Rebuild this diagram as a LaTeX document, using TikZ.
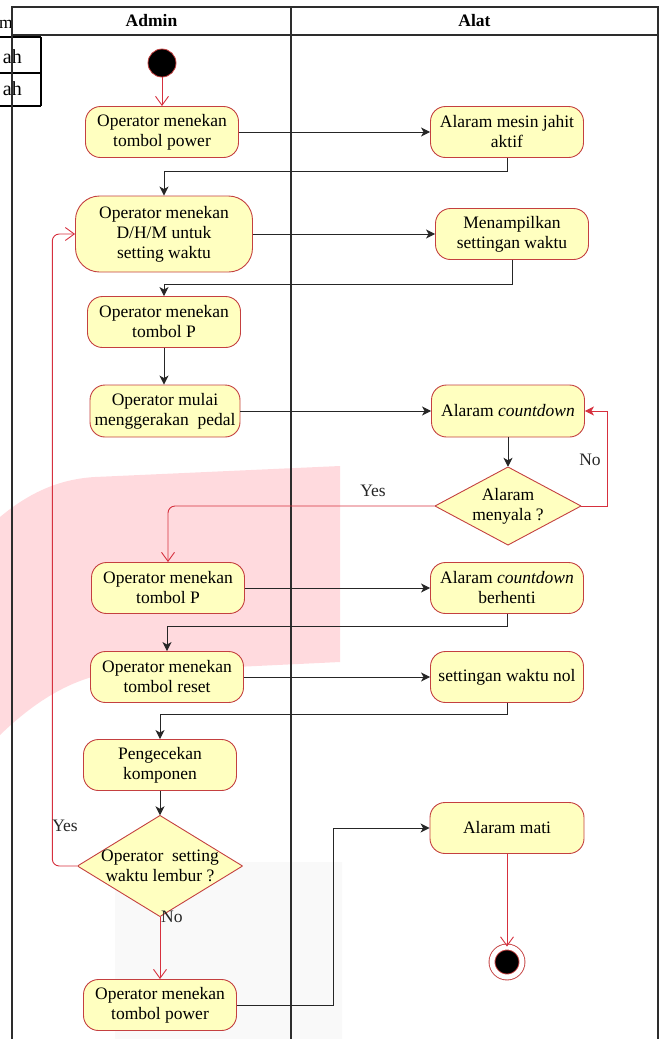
\documentclass[tikz,border=0pt]{standalone}
\usepackage{fontspec}
\setmainfont{Liberation Serif}
\usetikzlibrary{arrows.meta,positioning,calc}

\definecolor{actfill}{RGB}{255,255,192}
\definecolor{actline}{RGB}{196,64,64}
\definecolor{flowred}{RGB}{214,48,62}
\definecolor{wmpink}{RGB}{255,218,222}
\definecolor{wmgray}{RGB}{249,249,249}
\definecolor{lanegray}{RGB}{45,45,45}

\begin{document}
\begin{tikzpicture}[x=1pt,y=-1pt,font=\fontsize{17.5}{20}\selectfont,
	act/.style={draw=actline,fill=actfill,line width=0.9pt,rounded corners=15pt,align=center,inner sep=2pt,minimum width=153pt,minimum height=51pt},
	decision/.style={align=center,inner sep=0pt,path picture={\filldraw[draw=actline,fill=actfill,line width=0.9pt] (path picture bounding box.north) -- (path picture bounding box.east) -- (path picture bounding box.south) -- (path picture bounding box.west) -- cycle;}},
	flow/.style={draw=black!85,line width=1pt,-{Stealth[length=9pt,width=9pt,inset=2.5pt]}},
	redflow/.style={draw=flowred,line width=0.9pt,-{Straight Barb[length=9pt,width=13pt]}},
	lane/.style={draw=lanegray,line width=1.2pt},
	guard/.style={inner sep=1pt,text=black!85}]
	\clip (0,0) rectangle (661,1039);
	% watermark
	\fill[wmpink] (0,517) .. controls (30,492) and (60,479) .. (95,477) -- (340,466) -- (340,662) -- (110,673) .. controls (65,680) and (28,708) .. (0,735) -- cycle;
	\fill[wmgray] (115,1045) -- (115,888) .. controls (115,872) and (124,862) .. (140,862) -- (342,862) -- (342,1045) -- cycle;
	% bits of the table left of the frame
	\node[anchor=base east,inner sep=0pt] (tblm) at (13,28) {m};
	\foreach \yb/\nm in {63/tbla,95/tblb}
	\node[anchor=base east,inner sep=0pt,font=\fontsize{20}{22}\selectfont] (\nm) at (22,\yb) {ah};
	\foreach \yl in {37,73,106}
	\draw[line width=1.4pt] (0,\yl) -- (41,\yl);
	\draw[line width=1.4pt] (41,37) -- (41,106);
	% swimlanes
	\draw[lane] (12,1045) -- (12,7) -- (658,7) -- (658,1045);
	\draw[lane] (12,35) -- (658,35);
	\draw[lane] (291,7) -- (291,1045);
	\node[font=\fontsize{17.5}{20}\selectfont\bfseries] (hadmin) at (151.5,21) {Admin};
	\node[font=\fontsize{17.5}{20}\selectfont\bfseries] (halat) at (474.5,21) {Alat};
	% nodes
	\node[circle,fill=black,draw=actline,line width=0.8pt,minimum size=28pt,inner sep=0pt] (start) at (162,63) {};
	\node[act] (n1) at (162,132) {Operator menekan\\tombol power};
	\node[act] (a1) at (507,132) {Alaram mesin jahit\\aktif};
	\node[act,minimum width=177pt,minimum height=76pt,rounded corners=24pt] (n2) at (164,234) {Operator menekan\\D/H/M untuk\\setting waktu};
	\node[act] (a2) at (512,234) {Menampilkan\\settingan waktu};
	\node[act] (n3) at (164,322) {Operator menekan\\tombol P};
	\node[act,minimum width=150pt,minimum height=52pt] (n4) at (165,411) {Operator mulai\\menggerakan\ \ pedal};
	\node[act,minimum height=52pt] (a3) at (508,411) {Alaram \textit{countdown}};
	\node[decision,minimum width=146pt,minimum height=78pt] (d1) at (508,506) {Alaram\\menyala ?};
	\node[act] (n5) at (168,588) {Operator menekan\\tombol P};
	\node[act] (a4) at (507,588) {Alaram \textit{countdown}\\berhenti};
	\node[act] (n6) at (167,677) {Operator menekan\\tombol reset};
	\node[act] (a5) at (507,677) {settingan waktu nol};
	\node[act] (n7) at (160,765) {Pengecekan\\komponen};
	\node[decision,minimum width=165pt,minimum height=101pt] (d2) at (160,866) {Operator\ \ setting\\waktu lembur ?};
	\node[act] (n8) at (160,1005) {Operator menekan\\tombol power};
	\node[act,minimum width=154pt] (a6) at (507,828) {Alaram mati};
	\node[circle,fill=black,draw=actline,line width=0.9pt,double=white,double distance=5pt,minimum size=30pt,inner sep=0pt] (end) at (507,962) {};
	% connectors
	\draw[redflow] (start) -- (n1);
	\draw[flow] (n1) -- (a1);
	\draw[flow] (a1.south) -- ++(0,14) -| (n2.north);
	\draw[flow] (n2) -- (a2);
	\draw[flow] (a2.south) -- ++(0,25) -| (n3.north);
	\draw[flow] (n3.south) -- (n3.south |- n4.north);
	\draw[flow] (n4) -- (a3);
	\draw[flow] (a3) -- (d1.north);
	\draw[draw=flowred,line width=0.9pt,-{Stealth[length=9pt,width=9pt,inset=2.5pt]}] (d1.east) -- ++(26,0) |- (a3.east);
	\node[guard] (lno1) at (590,460) {No};
	\draw[redflow,rounded corners=7pt] (d1.west) -| (n5.north);
	\node[guard] (lyes1) at (373,491) {Yes};
	\draw[flow] (n5) -- (a4);
	\draw[flow] (a4.south) -- ++(0,13) -| (n6.north);
	\draw[flow] (n6) -- (a5);
	\draw[flow] (a5.south) -- ++(0,12) -| (n7.north);
	\draw[flow] (n7) -- (d2.north);
	\draw[redflow,rounded corners=7pt] (d2.west) -- ++(-25,0) |- (n2.west);
	\node[guard] (lyes2) at (65,826) {Yes};
	\draw[redflow] (d2.south) -- (n8.north);
	\node[guard,anchor=west] (lno2) at (d2.south) {No};
	\draw[flow] (n8.east) -- ++(97,0) |- (a6.west);
	\draw[redflow] (a6) -- (end);
\end{tikzpicture}
\end{document}
